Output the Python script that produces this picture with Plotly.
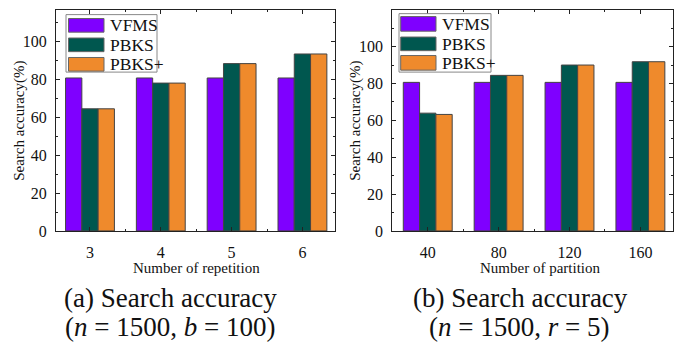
import plotly.graph_objects as go

W, H = 677, 351

series = ["VFMS", "PBKS", "PBKS+"]
colors = ["#7F00FF", "#00574F", "#EF8A2C"]

rep_labels = ["3", "4", "5", "6"]
rep_vfms = [80.9, 80.9, 80.9, 80.9]
rep_pbks = [64.6, 78.2, 88.5, 93.6]
rep_pbksp = [64.6, 78.2, 88.5, 93.6]

par_labels = ["40", "80", "120", "160"]
par_vfms = [80.6, 80.6, 80.6, 80.6]
par_pbks = [63.9, 84.4, 90.0, 91.8]
par_pbksp = [63.2, 84.4, 90.0, 91.8]

y_ticks = [0, 20, 40, 60, 80, 100]


def px(x):
    return x / W


def py(y):
    return 1 - y / H


FONT = "Liberation Serif"
fig = go.Figure()

for vals, name, col in zip([rep_vfms, rep_pbks, rep_pbksp], series, colors):
    fig.add_trace(go.Bar(x=list(range(len(rep_labels))), y=vals, name=name,
                         marker=dict(color=col, line=dict(color="#444444", width=1)),
                         xaxis="x", yaxis="y", showlegend=False))
for vals, name, col in zip([par_vfms, par_pbks, par_pbksp], series, colors):
    fig.add_trace(go.Bar(x=list(range(len(par_labels))), y=vals, name=name,
                         marker=dict(color=col, line=dict(color="#444444", width=1)),
                         xaxis="x2", yaxis="y2", showlegend=False))

axcommon = dict(showline=True, linecolor="#222222", linewidth=1, mirror="ticks",
                ticks="inside", ticklen=4, tickcolor="#222222", showgrid=False,
                zeroline=False, tickfont=dict(family=FONT, size=16, color="#111111"))

fig.update_layout(
    width=W, height=H, margin=dict(l=0, r=0, t=0, b=0),
    paper_bgcolor="white", plot_bgcolor="white",
    barmode="group", bargap=0.31, bargroupgap=0,
    xaxis=dict(domain=[px(56), px(335)], range=[-0.48, 3.46],
               tickvals=list(range(4)), ticktext=rep_labels, anchor="y",
               minor=dict(tickvals=[0.5, 1.5, 2.5], ticks="inside", ticklen=2, tickcolor="#222222"),
               ticklabelstandoff=7, **axcommon),
    yaxis=dict(domain=[py(237), py(10)], range=[0, 117], tickvals=y_ticks, anchor="x",
               minor=dict(dtick=10, ticks="inside", ticklen=2, tickcolor="#222222"),
               ticklabelstandoff=5, **axcommon),
    xaxis2=dict(domain=[px(392.3), px(673)], range=[-0.5, 3.46],
                tickvals=list(range(4)), ticktext=par_labels, anchor="y2",
                minor=dict(tickvals=[0.5, 1.5, 2.5], ticks="inside", ticklen=2, tickcolor="#222222"),
                ticklabelstandoff=7, **axcommon),
    yaxis2=dict(domain=[py(237), py(10)], range=[0, 120], tickvals=y_ticks, anchor="x2",
                minor=dict(dtick=10, ticks="inside", ticklen=2, tickcolor="#222222"),
                ticklabelstandoff=5, **axcommon),
)

shapes = []
annotations = []

# Legends (drawn as shapes + text in paper coordinates)
legends = [
    dict(box=(66, 15, 157, 74), sw_x=(68.5, 104), sw_y=[(19, 33), (39, 53), (59, 73)], tx=108),
    dict(box=(399, 14, 491, 74), sw_x=(400.7, 436), sw_y=[(17, 32), (38, 52), (57, 72)], tx=440),
]
for lg in legends:
    x0, y0, x1, y1 = lg["box"]
    shapes.append(dict(type="rect", xref="paper", yref="paper", x0=px(x0), x1=px(x1),
                       y0=py(y1), y1=py(y0), line=dict(color="#888888", width=1),
                       fillcolor="white", layer="above"))
    for (sy0, sy1), name, col in zip(lg["sw_y"], series, colors):
        shapes.append(dict(type="rect", xref="paper", yref="paper",
                           x0=px(lg["sw_x"][0]), x1=px(lg["sw_x"][1]),
                           y0=py(sy1), y1=py(sy0), fillcolor=col,
                           line=dict(color="#666666", width=1), layer="above"))
        annotations.append(dict(x=px(lg["tx"]), y=py((sy0 + sy1) / 2), xref="paper", yref="paper",
                                text=name, showarrow=False, xanchor="left", yanchor="middle",
                                font=dict(family=FONT, size=17.5, color="#111111")))


def ann(x, y, text, font, angle=0):
    return dict(x=px(x), y=py(y), xref="paper", yref="paper", text=text, showarrow=False,
                xanchor="center", yanchor="middle", textangle=angle, font=font)


tf = dict(family=FONT, size=15, color="#111111")
annotations += [
    ann(196, 275, "Number of repetition", tf),
    ann(540, 275, "Number of partition", tf),
    ann(20, 124, "Search accuracy(%)", tf, -90),
    ann(356, 124, "Search accuracy(%)", tf, -90),
]

# Captions
cap_font = dict(family=FONT, size=27, color="#111111")
annotations += [
    ann(170, 306, "(a) Search accuracy", cap_font),
    ann(170, 336, "(<i>n</i> = 1500, <i>b</i> = 100)", cap_font),
    ann(520, 306, "(b) Search accuracy", cap_font),
    ann(519, 336, "(<i>n</i> = 1500, <i>r</i> = 5)", cap_font),
]

fig.update_layout(shapes=shapes, annotations=annotations)
fig.write_html("out.html", config={"displayModeBar": False},
               post_script="document.body.style.margin='0';")
